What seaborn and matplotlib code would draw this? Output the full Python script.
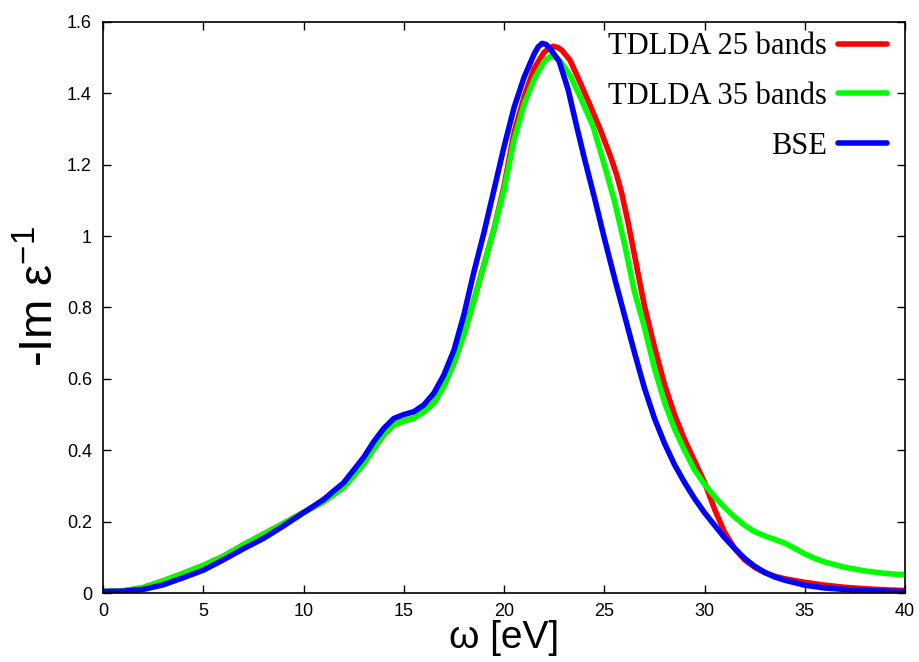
import numpy as np
import pandas as pd
import matplotlib
matplotlib.use("Agg")
import matplotlib.pyplot as plt
from matplotlib.ticker import FuncFormatter, MultipleLocator
import seaborn as sns

# ---- data ----
bse_x = [0, 1, 2, 3, 4, 5, 6, 7, 8, 9, 10, 11, 12, 13, 13.5, 14, 14.5, 15, 15.5, 16, 16.5,
         17, 17.5, 18, 18.5, 19, 19.5, 20, 20.5, 21, 21.5, 21.7, 21.9, 22.1, 22.3, 22.75, 23.2,
         23.63, 24, 24.5, 25, 25.5, 26, 26.5, 27, 27.5, 28, 28.5, 29, 29.5, 30, 30.5, 31,
         31.5, 32, 32.5, 33, 33.5, 34, 35, 36, 37, 38, 39, 40]
bse_y = [0.004, 0.005, 0.010, 0.023, 0.043, 0.064, 0.093, 0.124, 0.153, 0.188, 0.225, 0.262,
         0.309, 0.380, 0.424, 0.461, 0.489, 0.500, 0.508, 0.527, 0.560, 0.611, 0.680, 0.780,
         0.900, 1.010, 1.130, 1.250, 1.360, 1.445, 1.510, 1.530, 1.540, 1.537, 1.525, 1.490,
         1.410, 1.306, 1.220, 1.110, 0.995, 0.885, 0.780, 0.675, 0.575, 0.490, 0.420, 0.360,
         0.310, 0.265, 0.225, 0.190, 0.155, 0.125, 0.097, 0.075, 0.058, 0.045, 0.036, 0.022,
         0.014, 0.010, 0.007, 0.005, 0.004]

td35_x = [0, 1, 2, 3, 4, 5, 6, 7, 8, 9, 10, 11, 12, 13, 13.5, 14, 14.5, 15, 15.5, 16, 16.5,
          17, 17.5, 18, 18.5, 19, 19.5, 20, 20.5, 21, 21.5, 22, 22.3, 22.55, 22.8, 23.3, 23.8,
          24.45, 25, 25.5, 26, 26.5, 27, 27.5, 28, 28.5, 29, 29.5, 30, 30.5, 31, 31.5, 32,
          32.5, 33, 33.5, 34, 34.5, 35, 35.5, 36, 37, 38, 39, 40]
td35_y = [0.004, 0.006, 0.015, 0.034, 0.055, 0.077, 0.103, 0.135, 0.165, 0.195, 0.226, 0.256,
          0.296, 0.362, 0.405, 0.443, 0.471, 0.482, 0.490, 0.508, 0.532, 0.580, 0.645, 0.725,
          0.820, 0.920, 1.020, 1.130, 1.270, 1.370, 1.440, 1.490, 1.503, 1.502, 1.490, 1.450,
          1.390, 1.306, 1.200, 1.100, 0.980, 0.845, 0.745, 0.630, 0.535, 0.460, 0.400, 0.345,
          0.305, 0.270, 0.240, 0.213, 0.190, 0.172, 0.160, 0.150, 0.140, 0.125, 0.110, 0.097,
          0.087, 0.072, 0.062, 0.055, 0.051]

td25_x = [0, 1, 2, 3, 4, 5, 6, 7, 8, 9, 10, 11, 12, 13, 13.5, 14, 14.5, 15, 15.5, 16, 16.5,
          17, 17.5, 18, 18.5, 19, 19.5, 20, 20.5, 21, 21.5, 22, 22.25, 22.46, 22.7, 22.9,
          23.29, 23.8, 24.3, 24.79, 25.3, 25.6, 25.87, 26.2, 26.53, 27, 27.5, 28, 28.5, 29,
          29.5, 30, 30.5, 31, 31.5, 32, 32.5, 33, 33.5, 34, 35, 36, 37, 38, 39, 40]
td25_y = [0.004, 0.006, 0.015, 0.034, 0.055, 0.077, 0.103, 0.135, 0.165, 0.195, 0.226, 0.256,
          0.296, 0.362, 0.405, 0.443, 0.471, 0.482, 0.490, 0.508, 0.532, 0.580, 0.645, 0.725,
          0.820, 0.920, 1.020, 1.140, 1.290, 1.390, 1.470, 1.515, 1.527, 1.532, 1.528, 1.520,
          1.493, 1.430, 1.365, 1.300, 1.225, 1.175, 1.120, 1.035, 0.940, 0.805, 0.690, 0.585,
          0.500, 0.430, 0.370, 0.310, 0.235, 0.170, 0.125, 0.093, 0.072, 0.057, 0.047, 0.040,
          0.030, 0.022, 0.016, 0.012, 0.009, 0.007]

series_names = ["TDLDA 25 bands", "TDLDA 35 bands", "BSE"]
series_colors = ["#ff0000", "#00ff00", "#0000ff"]
x_ticks = [0, 5, 10, 15, 20, 25, 30, 35, 40]

frames = []
for name, xs, ys in zip(series_names, [td25_x, td35_x, bse_x], [td25_y, td35_y, bse_y]):
    frames.append(pd.DataFrame({"omega": xs, "loss": ys, "series": name}))
df = pd.concat(frames, ignore_index=True)

# ---- style ----
sns.set_style("ticks")
plt.rcParams["font.family"] = ["Liberation Sans", "DejaVu Sans"]
plt.rcParams["mathtext.default"] = "regular"
plt.rcParams["text.color"] = "black"
plt.rcParams["axes.labelcolor"] = "black"

fig = plt.figure(figsize=(9.19, 6.62), dpi=100)
ax = fig.add_axes([0.1121, 0.1042, 0.9848 - 0.1121, 0.9668 - 0.1042])

for name, col in zip(series_names, series_colors):
    sub = df[df["series"] == name]
    sns.lineplot(data=sub, x="omega", y="loss", ax=ax, color=col, linewidth=4.0,
                 label=name, sort=False, estimator=None, solid_joinstyle="round")

ax.set_xlim(0, 40)
ax.set_ylim(0, 1.6)
ax.set_xticks(x_ticks)
ax.yaxis.set_major_locator(MultipleLocator(0.2))
fmt = FuncFormatter(lambda v, p: "%g" % round(v, 3))
ax.xaxis.set_major_formatter(fmt)
ax.yaxis.set_major_formatter(fmt)

for s in ax.spines.values():
    s.set_visible(True)
    s.set_linewidth(1.2)
    s.set_color("black")

ax.tick_params(axis="both", which="major", direction="in", length=6, width=1.0,
               top=True, right=True, labelsize=13, colors="black")
ax.tick_params(axis="x", pad=7)
ax.tick_params(axis="y", pad=8)

ax.set_xlabel("ω [eV]", fontsize=28, labelpad=0.5)
ax.set_ylabel("-Im ε$^{-1}$", fontsize=34)
ax.yaxis.set_label_coords(-0.05, 0.52)

leg = ax.legend(loc="upper right", bbox_to_anchor=(0.9925, 1.0035), frameon=False,
                markerfirst=False, prop={"family": "Liberation Serif", "size": 22},
                handlelength=1.6, handletextpad=0.35, labelspacing=0.68,
                borderaxespad=0.2, borderpad=0.2)
for t in leg.get_texts():
    t.set_color("black")

fig.savefig("out.png", dpi=100)
